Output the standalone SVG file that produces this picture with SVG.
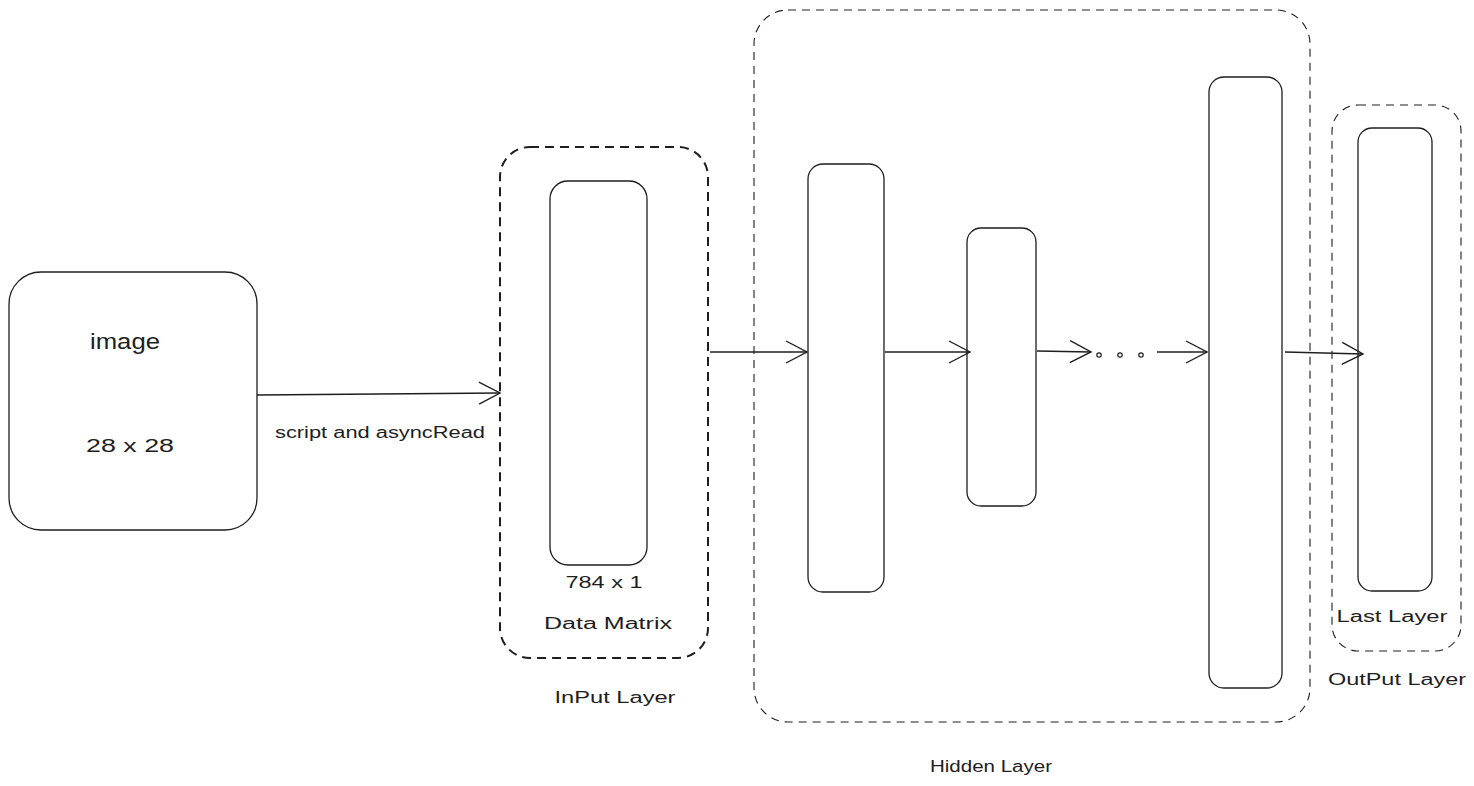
<svg xmlns="http://www.w3.org/2000/svg" width="1474" height="786" viewBox="0 0 1474 786">
<style>
.box{fill:none;stroke:#1e1e1e;stroke-width:1.3}
.grp{fill:none;stroke:#1e1e1e;stroke-width:1.1;stroke-dasharray:8 6}
.grp2{fill:none;stroke:#1e1e1e;stroke-width:2;stroke-dasharray:9 6}
.edge{fill:none;stroke:#1e1e1e;stroke-width:1.3}
.t{font-family:"Liberation Sans",Arial,sans-serif;fill:#1e1e1e;text-anchor:middle}
</style>
<defs>
<marker id="ah" viewBox="0 0 24 30" refX="22" refY="15" markerWidth="24" markerHeight="30" markerUnits="userSpaceOnUse" orient="auto">
<path d="M1 4 L22 15 L1 26" fill="none" stroke="#1e1e1e" stroke-width="1.4"/>
</marker>
</defs>
<rect width="1474" height="786" fill="#ffffff"/>

<g id="hidden-layer">
<rect class="grp" x="754" y="10" width="556" height="712" rx="34"/>
<text class="t" x="991" y="772" font-size="16" textLength="122" lengthAdjust="spacingAndGlyphs">Hidden Layer</text>
</g>

<g id="input-layer">
<rect class="grp2" x="500" y="147" width="208" height="511" rx="30"/>
<text class="t" x="615" y="703" font-size="16" textLength="121" lengthAdjust="spacingAndGlyphs">InPut Layer</text>
</g>

<g id="output-layer">
<rect class="grp" x="1332" y="105" width="129" height="546" rx="26"/>
<text class="t" x="1397" y="685" font-size="16" textLength="138" lengthAdjust="spacingAndGlyphs">OutPut Layer</text>
</g>

<g id="image">
<rect class="box" x="9" y="272" width="248" height="258" rx="32"/>
<text class="t" x="125" y="349" font-size="22" textLength="70" lengthAdjust="spacingAndGlyphs">image</text>
<text class="t" x="130" y="452" font-size="18" textLength="88" lengthAdjust="spacingAndGlyphs">28 x 28</text>
</g>

<g id="data-matrix">
<rect class="box" x="550" y="181" width="97" height="384" rx="18" stroke-width="1.8"/>
<text class="t" x="604" y="588" font-size="16" textLength="77" lengthAdjust="spacingAndGlyphs">784 x 1</text>
<text class="t" x="608" y="629" font-size="16" textLength="128" lengthAdjust="spacingAndGlyphs">Data Matrix</text>
</g>

<g id="hidden-1">
<rect class="box" x="808" y="164" width="76" height="428" rx="15"/>
</g>
<g id="hidden-2">
<rect class="box" x="967" y="228" width="69" height="278" rx="14"/>
</g>
<g id="hidden-n">
<rect class="box" x="1209" y="77" width="73" height="611" rx="15"/>
</g>

<g id="last-layer">
<rect class="box" x="1358" y="128" width="74" height="463" rx="14"/>
<text class="t" x="1392" y="622" font-size="16" textLength="111" lengthAdjust="spacingAndGlyphs">Last Layer</text>
</g>

<g id="connectors">
<path class="edge" d="M257 395 L500 393" marker-end="url(#ah)"/>
<text class="t" x="380" y="438" font-size="16" textLength="210" lengthAdjust="spacingAndGlyphs">script and asyncRead</text>
<path class="edge" d="M710 352 L807 352" marker-end="url(#ah)"/>
<path class="edge" d="M885 352 L970 352" marker-end="url(#ah)"/>
<path class="edge" d="M1037 351 L1091 352" marker-end="url(#ah)"/>
<g fill="none" stroke="#1e1e1e" stroke-width="1.2">
<circle cx="1099" cy="355" r="2.2"/>
<circle cx="1120" cy="355" r="2.2"/>
<circle cx="1141" cy="355" r="2.2"/>
</g>
<path class="edge" d="M1157 352 L1207 352" marker-end="url(#ah)"/>
<path class="edge" d="M1285 352 L1363 354" marker-end="url(#ah)"/>
</g>
</svg>
